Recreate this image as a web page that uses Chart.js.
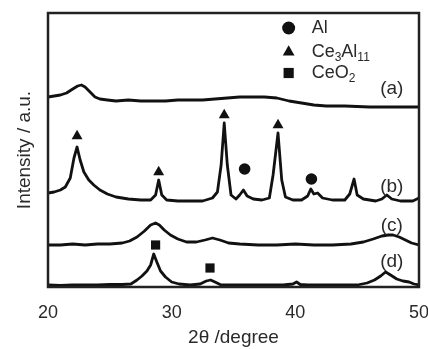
<!DOCTYPE html>
<html>
<head>
<meta charset="utf-8">
<script src="https://cdn.jsdelivr.net/npm/chart.js@4"></script>
<style>
  html, body { margin: 0; padding: 0; background: #fff; }
  #wrap { width: 428px; height: 349px; }
</style>
</head>
<body>
<div id="wrap"><canvas id="xrd" width="428" height="349"></canvas></div>
<script>
// XRD patterns, intensity in a.u. (curves are stacked with offsets)
const aX = [20, 20.5, 21, 21.5, 22, 22.4, 22.7, 23, 23.4, 23.8, 24.2, 24.8, 25.5, 26.5, 27.5, 28.5, 29.5, 30.5, 31.5, 32.5, 33.5, 34.5, 35.5, 36.5, 37.5, 38.5, 39.5, 40.5, 41.5, 42.5, 44, 46, 48, 50];
const aY = [190, 191, 192, 194, 198, 201, 202, 200, 195, 190, 188, 187, 186, 187, 186, 186, 186, 187, 187, 187, 188, 189, 190, 190, 190, 189, 186, 184, 182, 181, 181, 180, 180, 180];

const bX = [20, 20.5, 21, 21.4, 21.8, 22.1, 22.35, 22.6, 22.9, 23.3, 23.7, 24.2, 24.8, 25.5, 26.5, 27.5, 28.3, 28.7, 28.95, 29.2, 29.6, 30.5, 31.5, 32.5, 33.3, 33.7, 34, 34.25, 34.5, 34.8, 35.2, 35.5, 35.8, 36.1, 36.6, 37.3, 37.9, 38.2, 38.6, 38.9, 39.2, 39.8, 40.5, 41, 41.25, 41.5, 41.8, 42.2, 43, 44, 44.4, 44.75, 45, 45.5, 46.5, 47, 47.4, 47.8, 48.5, 49.5, 50];
const bY = [94, 95, 97, 100, 109, 129, 140, 127, 115, 107, 102, 97, 93, 90, 88, 87, 87, 92, 107, 92, 87, 86, 86, 86, 89, 95, 122, 164, 122, 92, 88, 92, 97, 91, 88, 87, 89, 112, 154, 107, 90, 87, 87, 91, 98, 93, 94, 89, 87, 87, 93, 108, 92, 88, 86, 88, 92, 88, 86, 86, 89];

const cX = [20, 21, 22, 23, 24, 25, 26, 26.6, 27.2, 27.8, 28.3, 28.7, 29, 29.4, 29.9, 30.5, 31.2, 32, 32.7, 33.3, 33.9, 34.6, 35.5, 37, 38.5, 40, 41.5, 43, 44.5, 45.5, 46.3, 47, 47.5, 47.9, 48.4, 48.9, 49.4, 50];
const cY = [42, 42, 43, 42, 43, 43, 44, 46, 50, 56, 62, 64, 62, 57, 52, 48, 45, 45, 47, 49, 47, 44, 43, 42, 42, 43, 42, 42, 43, 45, 48, 51, 52, 52, 50, 47, 44, 42];

const dX = [20, 21, 22, 23, 24, 25, 26, 26.7, 27.2, 27.6, 28, 28.3, 28.55, 28.8, 29.1, 29.5, 30, 30.6, 31.5, 32.3, 32.8, 33.15, 33.5, 34, 35, 36, 37, 38, 39, 39.8, 40.1, 40.4, 41, 42, 43, 44, 45, 45.8, 46.4, 46.9, 47.3, 47.7, 48.2, 48.7, 49.2, 49.6, 50];
const dY = [2, 1.5, 2, 2, 2, 2.5, 2.5, 3, 7, 11, 16, 22, 33, 25, 16, 10, 5, 3, 2, 3, 6, 7, 5, 2, 2, 2, 2, 2, 2, 3, 5, 2.5, 2, 2, 2, 2, 2, 4, 7, 11, 15, 12, 8, 6, 5, 3, 2];

// phase markers
const triX = [22.35, 28.95, 34.25, 38.6];
const triY = [151, 115, 172, 162];
const dotX = [35.9, 41.3];
const dotY = [118, 108];
const sqX = [28.7, 33.1];
const sqY = [42, 19];

// legend (key) entries
const keyX = 39.46;
const keyY = [259, 235, 214];
const keyText = [
  [['Al', 0]],
  [['Ce', 0], ['3', 1], ['Al', 0], ['11', 1]],
  [['CeO', 0], ['2', 1]]
];

// curve labels
const curveNames = ['(a)', '(b)', '(c)', '(d)'];
const curveNameX = 47.8;
const curveNameY = [198, 100, 61, 25];

const xTicks = [20, 30, 40, 50];

const FONT = "'Liberation Sans', Arial, sans-serif";
const INK = '#111';

const pts = (xs, ys) => xs.map((x, i) => ({ x: x, y: ys[i] }));

const curve = (xs, ys) => ({
  data: pts(xs, ys),
  showLine: true,
  borderColor: INK,
  borderWidth: 2.8,
  borderJoinStyle: 'round',
  pointRadius: 0,
  tension: 0
});

const marker = (xs, ys, style, r) => ({
  data: pts(xs, ys),
  showLine: false,
  pointStyle: style,
  pointRadius: r,
  pointBackgroundColor: INK,
  pointBorderColor: INK,
  pointBorderWidth: 0
});

// draw text with subscripts
function drawParts(ctx, parts, x, y) {
  let cx = x;
  parts.forEach(([t, sub]) => {
    ctx.font = (sub ? '12px ' : '18px ') + FONT;
    ctx.fillText(t, cx, sub ? y + 6 : y);
    cx += ctx.measureText(t).width;
  });
}

const annotations = {
  id: 'annotations',
  afterDatasetsDraw(chart) {
    const { ctx, chartArea: a, scales: { x, y } } = chart;
    ctx.save();
    // frame
    ctx.strokeStyle = '#222';
    ctx.lineWidth = 2.5;
    ctx.strokeRect(a.left, a.top, a.right - a.left, a.bottom - a.top);

    ctx.fillStyle = '#2a2a2a';
    ctx.textBaseline = 'middle';
    ctx.textAlign = 'center';
    ctx.font = '19px ' + FONT;
    curveNames.forEach((n, i) => {
      ctx.fillText(n, x.getPixelForValue(curveNameX), y.getPixelForValue(curveNameY[i]));
    });

    ctx.textAlign = 'left';
    keyText.forEach((parts, i) => {
      drawParts(ctx, parts, x.getPixelForValue(keyX) + 23, y.getPixelForValue(keyY[i]));
    });
    ctx.restore();
  }
};

new Chart(document.getElementById('xrd'), {
  type: 'scatter',
  data: {
    datasets: [
      curve(aX, aY),
      curve(bX, bY),
      curve(cX, cY),
      curve(dX, dY),
      marker(triX, triY, 'triangle', 6.3),
      marker(dotX, dotY, 'circle', 5.8),
      marker(sqX, sqY, 'rect', 6.5),
      marker([keyX], [keyY[0]], 'circle', 6.5),
      marker([keyX], [keyY[1]], 'triangle', 6.8),
      marker([keyX], [keyY[2]], 'rect', 7.2)
    ]
  },
  options: {
    responsive: false,
    animation: false,
    layout: { padding: { top: 13, right: 9, left: 0, bottom: 0 } },
    plugins: { legend: { display: false }, tooltip: { enabled: false } },
    scales: {
      x: {
        type: 'linear',
        min: 20,
        max: 50,
        afterBuildTicks: s => { s.ticks = xTicks.map(v => ({ value: v })); },
        afterFit: s => { s.height = 62; s.paddingLeft = 0; s.paddingRight = 0; },
        grid: { display: false, drawTicks: false },
        border: { display: false },
        ticks: { color: '#2a2a2a', font: { family: FONT, size: 18 }, padding: 15, maxRotation: 0 },
        title: { display: true, text: '2θ /degree', color: '#2a2a2a', font: { family: FONT, size: 19 }, padding: { top: 0, bottom: 0 } }
      },
      y: {
        min: 0,
        max: 274,
        afterFit: s => { s.width = 48; },
        grid: { display: false, drawTicks: false },
        border: { display: false },
        ticks: { display: false },
        title: { display: true, text: 'Intensity / a.u.', color: '#2a2a2a', font: { family: FONT, size: 19 }, padding: { top: 13, bottom: 0 } }
      }
    }
  },
  plugins: [annotations]
});
</script>
</body>
</html>
